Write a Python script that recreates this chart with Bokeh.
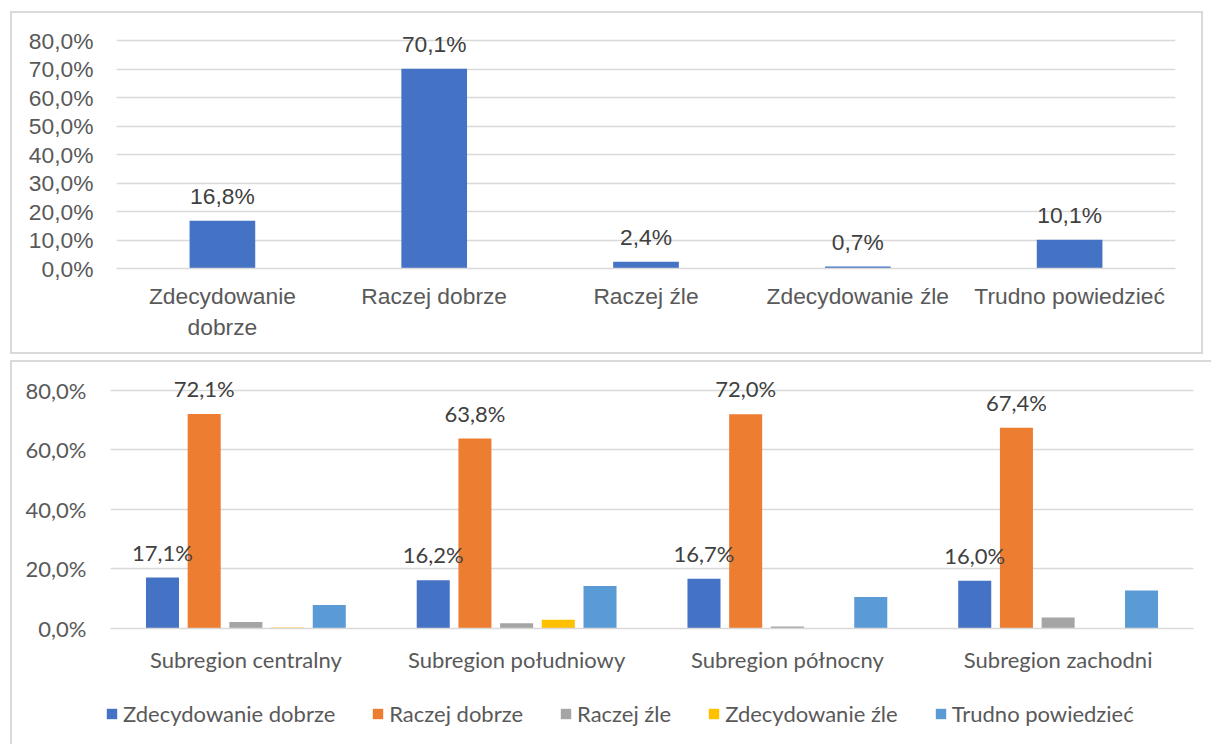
from bokeh.plotting import figure
from bokeh.models import (ColumnDataSource, FactorRange, Range1d, FixedTicker,
                          Legend, LegendItem, LabelSet)
from bokeh.embed import file_html
from bokeh.resources import INLINE
from bokeh.core.properties import value
from bokeh.transform import dodge

# ---------------- data ----------------
top_categories = ["Zdecydowanie\ndobrze", "Raczej dobrze", "Raczej źle",
                  "Zdecydowanie źle", "Trudno powiedzieć"]
top_values = [16.8, 70.1, 2.4, 0.7, 10.1]
top_yticks = [0, 10, 20, 30, 40, 50, 60, 70, 80]

sub_categories = ["Subregion centralny", "Subregion południowy",
                  "Subregion północny", "Subregion zachodni"]
series_names = ["Zdecydowanie dobrze", "Raczej dobrze", "Raczej źle",
                "Zdecydowanie źle", "Trudno powiedzieć"]
zdecydowanie_dobrze = [17.1, 16.2, 16.7, 16.0]
raczej_dobrze = [72.1, 63.8, 72.0, 67.4]
raczej_zle = [2.2, 1.8, 0.7, 3.7]
zdecydowanie_zle = [0.3, 2.9, 0.0, 0.0]
trudno_powiedziec = [7.9, 14.3, 10.6, 12.8]
bottom_yticks = [0, 20, 40, 60, 80]

series_colors = ["#4472C4", "#ED7D31", "#A5A5A5", "#FFC000", "#5B9BD5"]
labelled_series = [0, 1]  # only these series show data labels


def pct(v):
    return f"{v:.1f}%".replace(".", ",")


GRID = "#d9d9d9"
TICK = "#595959"
LBL = "#404040"

# ---------------- top chart ----------------
top_font = "Liberation Sans"
top_fs = "22.8px"
p1 = figure(x_range=FactorRange(*top_categories), y_range=Range1d(0, 86),
            width=1193, height=343, output_backend="svg", toolbar_location=None,
            min_border_left=106, min_border_right=28, min_border_top=12,
            min_border_bottom=86, margin=(11, 0, 0, 10))
p1.outline_line_color = None
p1.border_fill_color = None
p1.background_fill_color = None
p1.styles = {"box-shadow": "inset 0 0 0 2px #d9d9d9"}

src1 = ColumnDataSource(dict(cat=top_categories, val=top_values,
                             lab=[pct(v) for v in top_values]))
p1.vbar(x="cat", top="val", width=0.31, source=src1,
        fill_color="#4472C4", line_color=None)
p1.add_layout(LabelSet(x="cat", y="val", text="lab", source=src1,
                       text_align="center", text_baseline="alphabetic",
                       y_offset=17, text_font=value(top_font),
                       text_font_size=top_fs, text_color=LBL))

p1.yaxis.ticker = FixedTicker(ticks=top_yticks)
p1.yaxis.major_label_overrides = {t: pct(t) for t in top_yticks}
p1.xgrid.grid_line_color = None
p1.ygrid.grid_line_color = GRID
p1.ygrid.grid_line_width = 1.5
p1.ygrid.ticker = FixedTicker(ticks=top_yticks)
for ax in (p1.xaxis[0], p1.yaxis[0]):
    ax.major_tick_line_color = None
    ax.minor_tick_line_color = None
    ax.major_tick_out = 0
    ax.major_tick_in = 0
    ax.major_label_text_font = top_font
    ax.major_label_text_font_size = top_fs
    ax.major_label_text_color = TICK
p1.yaxis.axis_line_color = None
p1.xaxis.axis_line_color = GRID
p1.xaxis.axis_line_width = 1.5
p1.yaxis.major_label_standoff = 23
p1.xaxis.major_label_standoff = 14

# ---------------- bottom chart ----------------
bot_font = "Lato"
bot_fs = "22px"
p2 = figure(x_range=FactorRange(*sub_categories), y_range=Range1d(0, 86),
            width=1201, height=335, output_backend="svg", toolbar_location=None,
            min_border_left=100, min_border_right=18, min_border_top=12,
            min_border_bottom=67, margin=(6, 0, 0, 10))
p2.outline_line_color = None
p2.border_fill_color = None
p2.background_fill_color = None
p2.styles = {"box-shadow": "inset 2px 2px 0 0 #d9d9d9"}

series_values = [zdecydowanie_dobrze, raczej_dobrze, raczej_zle,
                 zdecydowanie_zle, trudno_powiedziec]
data2 = dict(cat=sub_categories)
for i, vals in enumerate(series_values):
    data2[f"s{i}"] = vals
    data2[f"l{i}"] = [pct(v) for v in vals]
src2 = ColumnDataSource(data2)

step = 0.154
offsets = [(i - 2) * step for i in range(5)]
for i, name in enumerate(series_names):
    p2.vbar(x=dodge("cat", offsets[i], range=p2.x_range), top=f"s{i}",
            width=0.122, source=src2, fill_color=series_colors[i],
            line_color=None)
    if i in labelled_series:
        p2.add_layout(LabelSet(x=dodge("cat", offsets[i], range=p2.x_range),
                               y=f"s{i}", text=f"l{i}", source=src2,
                               text_align="center", text_baseline="alphabetic",
                               y_offset=17, text_font=value(bot_font),
                               text_font_size=bot_fs, text_color=LBL))

p2.yaxis.ticker = FixedTicker(ticks=bottom_yticks)
p2.yaxis.major_label_overrides = {t: pct(t) for t in bottom_yticks}
p2.xgrid.grid_line_color = None
p2.ygrid.grid_line_color = GRID
p2.ygrid.grid_line_width = 1.5
p2.ygrid.ticker = FixedTicker(ticks=bottom_yticks)
for ax in (p2.xaxis[0], p2.yaxis[0]):
    ax.major_tick_line_color = None
    ax.minor_tick_line_color = None
    ax.major_tick_out = 0
    ax.major_tick_in = 0
    ax.major_label_text_font = bot_font
    ax.major_label_text_font_size = bot_fs
    ax.major_label_text_color = TICK
p2.yaxis.axis_line_color = None
p2.xaxis.axis_line_color = GRID
p2.xaxis.axis_line_width = 1.5
p2.yaxis.major_label_standoff = 24
p2.xaxis.major_label_standoff = 17

# ---------------- legend strip (continuation of the bottom chart box) ------
p3 = figure(width=1201, height=49, output_backend="svg", toolbar_location=None,
            x_range=Range1d(0, 1), y_range=Range1d(0, 1),
            x_axis_location=None, y_axis_location=None,
            min_border_left=0, min_border_right=0, min_border_top=0,
            min_border_bottom=0, margin=(0, 0, 0, 10))
p3.outline_line_color = None
p3.border_fill_color = None
p3.background_fill_color = None
p3.xgrid.grid_line_color = None
p3.ygrid.grid_line_color = None
p3.styles = {"box-shadow": "inset 2px 0 0 0 #d9d9d9"}

# legend keys: zero-height placeholder bars kept outside the visible range
key_src = ColumnDataSource(dict(x=[-5.0], top=[0.0]))
items = []
for i, name in enumerate(series_names):
    r = p3.vbar(x="x", top="top", width=0.1, source=key_src,
                fill_color=series_colors[i], line_color=None)
    items.append(LegendItem(label=name, renderers=[r]))

legend = Legend(items=items, orientation="horizontal", location=(95, 17),
                glyph_width=13, glyph_height=13, label_standoff=5,
                spacing=36, padding=0, margin=0, background_fill_alpha=0,
                border_line_color=None, label_text_font=bot_font,
                label_text_font_size=bot_fs, label_text_color=TICK)
p3.add_layout(legend, "center")

open("out.html", "w").write(file_html([p1, p2, p3], INLINE))
